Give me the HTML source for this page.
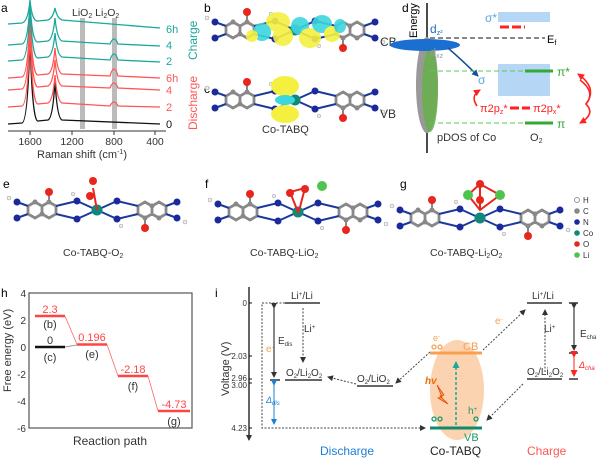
<!DOCTYPE html>
<html><head><meta charset="utf-8"><style>
html,body{margin:0;padding:0;background:#fff;width:600px;height:460px;overflow:hidden}
svg{display:block;font-family:"Liberation Sans",sans-serif}
</style></head><body>
<svg width="600" height="460" viewBox="0 0 600 460" xmlns="http://www.w3.org/2000/svg">
<defs>
<marker id="ak" markerUnits="userSpaceOnUse" markerWidth="6" markerHeight="6" refX="5" refY="3" orient="auto"><path d="M0,0 L6,3 L0,6 z" fill="#333"/></marker>
<marker id="ab" markerUnits="userSpaceOnUse" markerWidth="6" markerHeight="6" refX="5" refY="3" orient="auto"><path d="M0,0 L6,3 L0,6 z" fill="#1a7fd6"/></marker>
<marker id="ar" markerUnits="userSpaceOnUse" markerWidth="7" markerHeight="7" refX="6" refY="3.5" orient="auto"><path d="M0,0 L7,3.5 L0,7 z" fill="#f22"/></marker>
<marker id="at" markerUnits="userSpaceOnUse" markerWidth="7" markerHeight="7" refX="6" refY="3.5" orient="auto"><path d="M0,0 L7,3.5 L0,7 z" fill="#1aa89a"/></marker>
<marker id="an" markerUnits="userSpaceOnUse" markerWidth="7" markerHeight="7" refX="6" refY="3.5" orient="auto"><path d="M0,0 L7,3.5 L0,7 z" fill="#1a4f9a"/></marker>
<g id="mol">
<g stroke="#888" stroke-width="2.8" fill="none">
<path d="M-62,-8 l7,4 l0,8 l-7,4 l-7,-4 l0,-8 z M-48,-8 l7,4 l0,8 l-7,4 l-7,-4 l0,-8 z M48,-8 l7,4 l0,8 l-7,4 l-7,-4 l0,-8 z M62,-8 l7,4 l0,8 l-7,4 l-7,-4 l0,-8 z"/>
</g>
<g stroke="#1a3a9a" stroke-width="2"><line x1="-41" y1="-4" x2="-20" y2="-9"/><line x1="-41" y1="4" x2="-20" y2="9"/><line x1="41" y1="-4" x2="20" y2="-9"/><line x1="41" y1="4" x2="20" y2="9"/><line x1="-20" y1="-9" x2="0" y2="0"/><line x1="20" y1="-9" x2="0" y2="0"/><line x1="-20" y1="9" x2="0" y2="0"/><line x1="20" y1="9" x2="0" y2="0"/><line x1="-69" y1="-4" x2="-80" y2="-8"/><line x1="-69" y1="4" x2="-80" y2="8"/><line x1="69" y1="-4" x2="80" y2="-8"/><line x1="69" y1="4" x2="80" y2="8"/></g>
<g fill="#888"><circle cx="-62" cy="-8" r="2.5"/><circle cx="-48" cy="-8" r="2.5"/><circle cx="48" cy="8" r="2.5"/><circle cx="62" cy="8" r="2.5"/><circle cx="-55" cy="4" r="2.5"/><circle cx="55" cy="-4" r="2.5"/></g>
<g fill="#1a2a9a"><circle cx="-80" cy="-8" r="3.5"/><circle cx="-80" cy="8" r="3.5"/><circle cx="-20" cy="-9" r="3.5"/><circle cx="-20" cy="9" r="3.5"/><circle cx="20" cy="-9" r="3.5"/><circle cx="20" cy="9" r="3.5"/><circle cx="80" cy="-8" r="3.5"/><circle cx="80" cy="8" r="3.5"/></g>
<g stroke="#888" stroke-width="2"><line x1="-48" y1="-8" x2="-48" y2="-17"/><line x1="48" y1="8" x2="48" y2="17"/></g>
<g fill="#e8261c"><circle cx="-48" cy="-18" r="4"/><circle cx="48" cy="18" r="4"/></g>
<g fill="#eee" stroke="#999" stroke-width=".5"><circle cx="-88" cy="-12" r="2"/><circle cx="88" cy="12" r="2"/><circle cx="-24" cy="-16" r="1.8"/><circle cx="24" cy="16" r="1.8"/></g>
<circle cx="0" cy="0" r="5.5" fill="#0f8a7a"/>
</g>
</defs>

<!-- panel a -->
<text x="1" y="12" font-size="12">a</text>
<rect x="80" y="18" width="5" height="111" fill="#bbb"/>
<rect x="112" y="18" width="5" height="111" fill="#bbb"/>
<text x="72" y="16" font-size="10.5" fill="#333">LiO<tspan font-size="7" dy="2">2</tspan><tspan dy="-2"> Li</tspan><tspan font-size="7" dy="2">2</tspan><tspan dy="-2">O</tspan><tspan font-size="7" dy="2">2</tspan></text>
<g fill="none" stroke-width="1.3">
<path d="M8,124 L22,123 Q28,122 30,35 Q32,122 38,121 L48,120 Q53,118 55,80 Q57,118 62,120 L160,124" stroke="#111"/>
<path d="M8,107 L22,106 Q28,105 30,30 Q32,105 38,104 L48,103 Q53,101 55,75 Q57,101 62,103 L110,106 Q114,98 118,106 L160,107" stroke="#f55"/>
<path d="M8,90 L22,89 Q28,88 30,25 Q32,88 38,87 L48,86 Q53,84 55,60 Q57,84 62,86 L110,88 Q114,78 118,88 L160,90" stroke="#f55"/>
<path d="M8,78 L22,77 Q28,76 30,15 Q32,76 38,75 L48,74 Q53,72 55,48 Q57,72 62,74 L110,76 Q114,62 118,76 L160,78" stroke="#f55"/>
<path d="M8,61 L22,60 Q28,59 30,5 Q32,59 38,58 L48,57 Q53,55 55,33 Q57,55 62,57 L110,60 Q114,48 118,60 L160,62" stroke="#1aa89a"/>
<path d="M8,45 L22,44 Q28,43 30,2 Q32,43 38,42 L48,41 Q53,39 55,18 Q57,39 62,41 L110,44 Q114,34 118,44 L160,46" stroke="#1aa89a"/>
<path d="M8,24 L22,23 Q28,22 30,0 Q32,22 38,21 L48,20 Q53,18 55,8 Q57,18 62,20 L160,28" stroke="#1aa89a"/>
</g>
<g font-size="11"><text x="166" y="128" fill="#111">0</text><text x="166" y="111" fill="#f55">2</text><text x="166" y="94" fill="#f55">4</text><text x="166" y="82" fill="#f55">6h</text><text x="166" y="65" fill="#1aa89a">2</text><text x="166" y="49" fill="#1aa89a">4</text><text x="166" y="33" fill="#1aa89a">6h</text></g>
<text transform="translate(197,60) rotate(-90)" font-size="12" fill="#1aa89a">Charge</text>
<text transform="translate(197,130) rotate(-90)" font-size="12" fill="#f55">Discharge</text>
<line x1="8" y1="131" x2="166" y2="131" stroke="#333"/>
<g stroke="#333"><line x1="30" y1="131" x2="30" y2="135"/><line x1="72" y1="131" x2="72" y2="135"/><line x1="114" y1="131" x2="114" y2="135"/><line x1="155" y1="131" x2="155" y2="135"/></g>
<g font-size="10.5" fill="#333" text-anchor="middle"><text x="30" y="145">1600</text><text x="72" y="145">1200</text><text x="114" y="145">800</text><text x="155" y="145">400</text></g>
<text x="37" y="158" font-size="11" fill="#333">Raman shift (cm<tspan font-size="7" dy="-4">-1</tspan><tspan dy="4">)</tspan></text>

<!-- panel b, c -->
<text x="204" y="12" font-size="12">b</text>
<use href="#mol" x="295" y="30"/>
<g opacity=".9"><ellipse cx="278" cy="22" rx="12" ry="10" fill="#f5f040"/><ellipse cx="262" cy="32" rx="9" ry="9" fill="#3cd6de"/><ellipse cx="283" cy="36" rx="10" ry="10" fill="#f5f040"/><ellipse cx="300" cy="26" rx="9" ry="9" fill="#3cd6de"/><ellipse cx="310" cy="38" rx="11" ry="10" fill="#f5f040"/><ellipse cx="322" cy="24" rx="10" ry="9" fill="#3cd6de"/><ellipse cx="332" cy="34" rx="8" ry="8" fill="#f5f040"/><ellipse cx="252" cy="36" rx="6" ry="6" fill="#f5f040"/><ellipse cx="340" cy="26" rx="6" ry="7" fill="#3cd6de"/></g>
<text x="380" y="46" font-size="12" fill="#333">CB</text>
<text x="204" y="93" font-size="12">c</text>
<use href="#mol" x="295" y="100"/>
<ellipse cx="285" cy="86" rx="14" ry="10" fill="#f5f040"/>
<ellipse cx="285" cy="114" rx="14" ry="9" fill="#f5f040"/>
<ellipse cx="285" cy="100" rx="10" ry="5" fill="#3cd6de"/>
<text x="380" y="118" font-size="12" fill="#333">VB</text>
<text x="262" y="133" font-size="11" fill="#333">Co-TABQ</text>

<!-- panel d -->
<text x="402" y="12" font-size="12">d</text>
<line x1="427" y1="153" x2="427" y2="3" stroke="#111" stroke-width="1.5"/>
<text transform="translate(417,38) rotate(-90)" font-size="11">Energy</text>
<rect x="498" y="12" width="52" height="10" fill="#b5d6f5"/>
<rect x="498" y="64" width="52" height="32" fill="#b5d6f5"/>
<text x="485" y="22" font-size="12" fill="#5aa8e6">σ*</text>
<line x1="500" y1="27" x2="525" y2="27" stroke="#f22" stroke-width="3" stroke-dasharray="9,3"/>
<line x1="430" y1="38" x2="545" y2="38" stroke="#111" stroke-dasharray="5,3"/>
<text x="547" y="43" font-size="11">E<tspan font-size="7" dy="2">f</tspan></text>
<ellipse cx="427" cy="85" rx="11" ry="48" fill="#999"/>
<ellipse cx="430" cy="90" rx="8" ry="42" fill="#66b04a" opacity=".85"/>
<ellipse cx="425" cy="45" rx="35" ry="6" fill="#1a6fd0"/>
<text x="430" y="33" font-size="12" fill="#1a6fd0">d<tspan font-size="7" dy="2">z²</tspan></text>
<text x="430" y="56" font-size="11" fill="#999">d<tspan font-size="7" dy="2">xz</tspan></text>
<path d="M448,48 Q462,60 478,76" fill="none" stroke="#1a4f9a" stroke-width="1.5" marker-end="url(#an)"/>
<text x="478" y="84" font-size="12" fill="#5aa8e6">σ</text>
<line x1="430" y1="71" x2="528" y2="71" stroke="#5c5" stroke-dasharray="5,3"/>
<line x1="525" y1="71" x2="553" y2="71" stroke="#3a3" stroke-width="3"/>
<text x="557" y="76" font-size="12" fill="#3a3">π*</text>
<line x1="430" y1="123" x2="528" y2="123" stroke="#5c5" stroke-dasharray="5,3"/>
<line x1="525" y1="123" x2="553" y2="123" stroke="#3a3" stroke-width="3"/>
<text x="557" y="128" font-size="12" fill="#3a3">π</text>
<text x="480" y="112" font-size="11" fill="#f22">π2p<tspan font-size="7" dy="2">z</tspan><tspan dy="-2">*</tspan></text>
<line x1="510" y1="108" x2="530" y2="108" stroke="#f22" stroke-width="3" stroke-dasharray="9,3"/>
<text x="533" y="112" font-size="11" fill="#f22">π2p<tspan font-size="7" dy="2">x</tspan><tspan dy="-2">*</tspan></text>
<path d="M477,106 Q470,96 480,90" fill="none" stroke="#f22" stroke-width="1.6" marker-end="url(#ar)"/>
<path d="M580,80 Q596,92 586,104 Q596,114 580,123" fill="none" stroke="#f22" stroke-width="1.6" marker-end="url(#ar)"/>
<path d="M586,104 Q598,88 578,74" fill="none" stroke="#f22" stroke-width="1.6" marker-end="url(#ar)"/>
<text x="437" y="141" font-size="11" fill="#333">pDOS of Co</text>
<text x="530" y="141" font-size="11" fill="#333">O<tspan font-size="7" dy="2">2</tspan></text>

<!-- panels e f g -->
<text x="3" y="188" font-size="12">e</text>
<use href="#mol" x="97" y="210"/>
<line x1="97" y1="210" x2="93" y2="188" stroke="#e8261c" stroke-width="2"/>
<circle cx="90" cy="196" r="4" fill="#e8261c"/><circle cx="93" cy="181" r="4" fill="#e8261c"/>
<text x="63" y="256" font-size="10.5" fill="#333">Co-TABQ-O<tspan font-size="7" dy="2">2</tspan></text>
<text x="205" y="188" font-size="12">f</text>
<use href="#mol" x="298" y="212"/>
<path d="M298,212 L290,192 L305,188 L300,207 Z" fill="none" stroke="#e8261c" stroke-width="2"/>
<circle cx="290" cy="193" r="4" fill="#e8261c"/><circle cx="305" cy="189" r="4" fill="#e8261c"/><circle cx="322" cy="186" r="5" fill="#4ec44e"/>
<text x="250" y="256" font-size="10.5" fill="#333">Co-TABQ-LiO<tspan font-size="7" dy="2">2</tspan></text>
<text x="400" y="188" font-size="12">g</text>
<use href="#mol" x="480" y="218"/>
<path d="M468,195 L480,184 L500,195 L480,210 Z M480,184 L480,210" fill="none" stroke="#e8261c" stroke-width="2"/>
<circle cx="468" cy="195" r="5" fill="#4ec44e"/><circle cx="500" cy="195" r="5" fill="#4ec44e"/><circle cx="480" cy="184" r="4" fill="#e8261c"/><circle cx="480" cy="200" r="4" fill="#e8261c"/>
<text x="430" y="256" font-size="10.5" fill="#333">Co-TABQ-Li<tspan font-size="7" dy="2">2</tspan><tspan dy="-2">O</tspan><tspan font-size="7" dy="2">2</tspan></text>
<g font-size="8" fill="#333">
<circle cx="577" cy="200" r="2.5" fill="#fff" stroke="#999"/><text x="583" y="203">H</text>
<circle cx="577" cy="211" r="2.8" fill="#888"/><text x="583" y="214">C</text>
<circle cx="577" cy="222" r="2.8" fill="#1a2a9a"/><text x="583" y="225">N</text>
<circle cx="577" cy="233" r="2.8" fill="#0f8a7a"/><text x="583" y="236">Co</text>
<circle cx="577" cy="244" r="2.8" fill="#e8261c"/><text x="583" y="247">O</text>
<circle cx="577" cy="255" r="2.8" fill="#4ec44e"/><text x="583" y="258">Li</text>
</g>

<!-- panel h -->
<text x="1" y="297" font-size="12">h</text>
<rect x="29" y="293" width="163" height="135" fill="none" stroke="#555" stroke-width="1.2"/>
<g font-size="10" fill="#333" text-anchor="end"><text x="26" y="297">4</text><text x="26" y="324">2</text><text x="26" y="351">0</text><text x="26" y="378">-2</text><text x="26" y="405">-4</text><text x="26" y="432">-6</text></g>
<text transform="translate(11,392) rotate(-90)" font-size="11" fill="#333">Free energy (eV)</text>
<g stroke="#f66" stroke-width=".8"><line x1="65" y1="316" x2="77" y2="344.5"/><line x1="107" y1="344.5" x2="118" y2="376"/><line x1="148" y1="376" x2="158" y2="411"/></g>
<line x1="65" y1="347" x2="77" y2="345" stroke="#999"/>
<g stroke-width="2.5"><line x1="35" y1="316" x2="65" y2="316" stroke="#f44"/><line x1="35" y1="347" x2="65" y2="347" stroke="#111"/><line x1="77" y1="344.5" x2="107" y2="344.5" stroke="#f44"/><line x1="118" y1="376" x2="148" y2="376" stroke="#f44"/><line x1="158" y1="411" x2="190" y2="411" stroke="#f44"/></g>
<g font-size="11" text-anchor="middle"><text x="50" y="313" fill="#f44">2.3</text><text x="50" y="328" fill="#333">(b)</text><text x="50" y="344" fill="#333">0</text><text x="50" y="361" fill="#333">(c)</text><text x="92" y="341" fill="#f44">0.196</text><text x="92" y="358" fill="#333">(e)</text><text x="133" y="373" fill="#f44">-2.18</text><text x="133" y="390" fill="#333">(f)</text><text x="174" y="408" fill="#f44">-4.73</text><text x="174" y="425" fill="#333">(g)</text></g>
<text x="110" y="445" font-size="12" fill="#333" text-anchor="middle">Reaction path</text>

<!-- panel i -->
<text x="215" y="297" font-size="12">i</text>
<line x1="249" y1="287" x2="249" y2="440" stroke="#111" stroke-width="1.3" marker-end="url(#ak)"/>
<text transform="translate(229,396) rotate(-90)" font-size="11" fill="#333">Voltage (V)</text>
<g font-size="8" fill="#333" text-anchor="end"><text x="247" y="306">0</text><text x="247" y="359">2.03</text><text x="247" y="381">2.96</text><text x="247" y="388">3.00</text><text x="247" y="431">4.23</text></g>
<g stroke="#111"><line x1="249" y1="303" x2="252" y2="303"/><line x1="249" y1="356" x2="252" y2="356"/><line x1="249" y1="379" x2="252" y2="379"/><line x1="249" y1="383" x2="252" y2="383"/><line x1="249" y1="428" x2="252" y2="428"/></g>
<ellipse cx="457" cy="390" rx="27" ry="50" fill="#fbd3b0"/>
<g stroke="#333" stroke-width="1.5"><line x1="285" y1="303" x2="320" y2="303"/><line x1="285" y1="380" x2="322" y2="380"/><line x1="270" y1="380" x2="280" y2="380"/><line x1="357" y1="386" x2="393" y2="386"/><line x1="527" y1="303" x2="562" y2="303"/><line x1="527" y1="379" x2="562" y2="379"/><line x1="569" y1="303" x2="578" y2="303"/><line x1="569" y1="353" x2="578" y2="353"/><line x1="569" y1="379" x2="578" y2="379"/></g>
<g font-size="10" fill="#333"><text x="291" y="299">Li<tspan font-size="6" dy="-3">+</tspan><tspan dy="3">/Li</tspan></text><text x="286" y="376">O<tspan font-size="6" dy="2">2</tspan><tspan dy="-2">/Li</tspan><tspan font-size="6" dy="2">2</tspan><tspan dy="-2">O</tspan><tspan font-size="6" dy="2">2</tspan></text><text x="357" y="382">O<tspan font-size="6" dy="2">2</tspan><tspan dy="-2">/LiO</tspan><tspan font-size="6" dy="2">2</tspan></text><text x="532" y="299">Li<tspan font-size="6" dy="-3">+</tspan><tspan dy="3">/Li</tspan></text><text x="527" y="375">O<tspan font-size="6" dy="2">2</tspan><tspan dy="-2">/Li</tspan><tspan font-size="6" dy="2">2</tspan><tspan dy="-2">O</tspan><tspan font-size="6" dy="2">2</tspan></text><text x="278" y="344">E<tspan font-size="6" dy="2">dis</tspan></text><text x="304" y="332">Li<tspan font-size="6" dy="-3">+</tspan></text><text x="544" y="332">Li<tspan font-size="6" dy="-3">+</tspan></text><text x="580" y="337">E<tspan font-size="6" dy="2">cha</tspan></text></g>
<g fill="none" stroke="#444" stroke-dasharray="2,1.5" stroke-width="1"><path d="M285,303 L262,303 L262,428 L425,428" marker-end="url(#ak)"/><line x1="303" y1="308" x2="303" y2="362" marker-end="url(#ak)"/><line x1="356" y1="384" x2="328" y2="377" marker-end="url(#ak)"/><line x1="430" y1="352" x2="396" y2="383" marker-end="url(#ak)"/><line x1="483" y1="350" x2="525" y2="310" marker-end="url(#ak)"/><line x1="545" y1="372" x2="545" y2="310" marker-end="url(#ak)"/><line x1="523" y1="384" x2="487" y2="420" marker-end="url(#ak)"/></g>
<line x1="274" y1="308" x2="274" y2="377" stroke="#111" marker-end="url(#ak)" marker-start="url(#ak)"/>
<line x1="574" y1="308" x2="574" y2="350" stroke="#111" marker-end="url(#ak)" marker-start="url(#ak)"/>
<line x1="574" y1="357" x2="574" y2="376" stroke="#f22" marker-end="url(#ar)" marker-start="url(#ar)"/>
<line x1="274" y1="385" x2="274" y2="424" stroke="#1a7fd6" marker-end="url(#ab)" marker-start="url(#ab)"/>
<text x="266" y="403" font-size="9" fill="#1a7fd6" font-style="italic">Δ<tspan font-size="6" dy="2">dis</tspan></text>
<text x="579" y="368" font-size="9" fill="#f22" font-style="italic">Δ<tspan font-size="6" dy="2">cha</tspan></text>
<text x="266" y="352" font-size="10" fill="#f8a050">e<tspan font-size="6" dy="-3">-</tspan></text>
<text x="495" y="324" font-size="10" fill="#f8a050">e<tspan font-size="6" dy="-3">-</tspan></text>
<line x1="430" y1="353" x2="482" y2="353" stroke="#f8a050" stroke-width="3"/>
<line x1="430" y1="428" x2="482" y2="428" stroke="#0f8a6a" stroke-width="3"/>
<g fill="none" stroke="#f8a050" stroke-width="1.3"><circle cx="434" cy="347" r="2"/><circle cx="440" cy="347" r="2"/></g>
<g fill="none" stroke="#1a9a6a" stroke-width="1.3"><circle cx="434" cy="419" r="2"/><circle cx="440" cy="419" r="2"/><circle cx="476" cy="419" r="2"/></g>
<text x="433" y="341" font-size="9" fill="#f8a050">e<tspan font-size="6" dy="-3">-</tspan></text>
<text x="463" y="350" font-size="11" fill="#f8a050">CB</text>
<text x="468" y="414" font-size="10" fill="#1a9a6a">h<tspan font-size="6" dy="-3">+</tspan></text>
<text x="464" y="441" font-size="11" fill="#1a9a6a">VB</text>
<text x="425" y="384" font-size="10" fill="#e8700a" font-style="italic" font-weight="bold">hv</text>
<path d="M437,385 L444,395 L440,396 L448,404 L438,398 L442,397 Z" fill="#f5b020" stroke="#e84010" stroke-width=".8"/>
<line x1="456" y1="425" x2="456" y2="362" stroke="#1aa89a" stroke-width="1.5" stroke-dasharray="3,2" marker-end="url(#at)"/>
<text x="320" y="455" font-size="12" fill="#1a7fd6">Discharge</text>
<text x="430" y="455" font-size="12" fill="#222">Co-TABQ</text>
<text x="527" y="455" font-size="12" fill="#f55">Charge</text>
</svg>
</body></html>
